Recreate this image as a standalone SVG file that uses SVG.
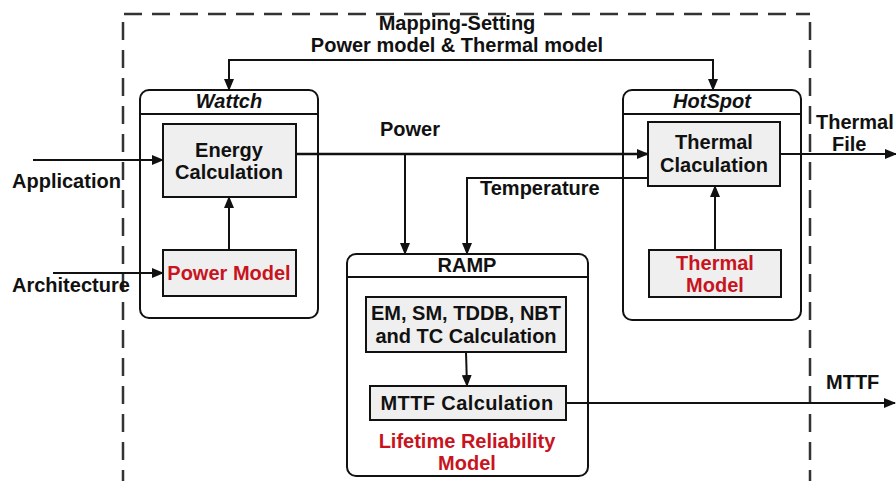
<svg xmlns="http://www.w3.org/2000/svg" width="896" height="481" viewBox="0 0 896 481">
  <style>
    text { font-family: "Liberation Sans", Arial, sans-serif; font-weight: bold; font-size: 20px; fill: #111; }
    .mid { text-anchor: middle; }
    .ital { font-style: italic; }
    .red { fill: #c8141e; }
    .frame { fill: none; stroke: #333; stroke-width: 2.5; stroke-dasharray: 18 10; }
    .tool { fill: #fff; stroke: #111; stroke-width: 2; }
    .hdr { stroke: #111; stroke-width: 2; }
    .blk { fill: #efefef; stroke: #111; stroke-width: 2; }
    .wire { fill: none; stroke: #111; stroke-width: 2; }
    .bold { stroke-width: 2.6; }
  </style>
  <defs>
    <marker id="arrow" markerUnits="userSpaceOnUse" markerWidth="12" markerHeight="10" refX="11" refY="5" orient="auto-start-reverse">
      <path d="M0,0 L12,5 L0,10 z" fill="#111"/>
    </marker>
  </defs>

  <rect width="896" height="481" fill="#fff"/>

  <!-- simulation framework boundary -->
  <path class="frame" d="M124,14 L810,14 M123,22 L123,481 M810,22 L810,481"/>
  <text class="mid" x="457" y="30">Mapping-Setting</text>
  <text class="mid" x="457" y="52">Power model &amp; Thermal model</text>

  <g id="wattch">
    <rect class="tool" x="140" y="90" width="178" height="228" rx="9"/>
    <line class="hdr" x1="140" y1="114" x2="318" y2="114"/>
    <text class="mid ital" x="229" y="108">Wattch</text>
  </g>
  <g id="energy-calc">
    <rect class="blk" x="163" y="124" width="133" height="73"/>
    <text class="mid" x="229" y="157">Energy</text>
    <text class="mid" x="229" y="179">Calculation</text>
  </g>
  <g id="power-model">
    <rect class="blk" x="163" y="250" width="133" height="46"/>
    <text class="mid red" x="229" y="280">Power Model</text>
  </g>

  <g id="hotspot">
    <rect class="tool" x="623" y="90" width="178" height="230" rx="9"/>
    <line class="hdr" x1="623" y1="114" x2="801" y2="114"/>
    <text class="mid ital" x="712" y="108">HotSpot</text>
  </g>
  <g id="thermal-calc">
    <rect class="blk" x="648" y="122" width="132" height="64"/>
    <text class="mid" x="714" y="149">Thermal</text>
    <text class="mid" x="714" y="172">Claculation</text>
  </g>
  <g id="thermal-model">
    <rect class="blk" x="649" y="250" width="132" height="47"/>
    <text class="mid red" x="715" y="270">Thermal</text>
    <text class="mid red" x="715" y="292">Model</text>
  </g>

  <g id="ramp">
    <rect class="tool" x="347" y="254" width="241" height="222" rx="9"/>
    <line class="hdr" x1="347" y1="277" x2="588" y2="277"/>
    <text class="mid" x="467" y="272">RAMP</text>
    <text class="mid red" x="467" y="448">Lifetime Reliability</text>
    <text class="mid red" x="467" y="470">Model</text>
  </g>
  <g id="failure-calc">
    <rect class="blk" x="366" y="297" width="200" height="55"/>
    <text class="mid" x="466" y="320">EM, SM, TDDB, NBT</text>
    <text class="mid" x="466" y="343">and TC Calculation</text>
  </g>
  <g id="mttf-calc">
    <rect class="blk" x="370" y="386" width="196" height="34"/>
    <text class="mid" x="467" y="410" letter-spacing="0.4">MTTF Calculation</text>
  </g>

  <g id="connectors">
    <!-- mapping settings fan out to both tools -->
    <path class="wire" d="M229,90 L229,60 L713,60 L713,90" marker-start="url(#arrow)" marker-end="url(#arrow)"/>
    <!-- inputs -->
    <line class="wire" x1="33" y1="160" x2="163" y2="160" marker-end="url(#arrow)"/>
    <line class="wire" x1="53" y1="273" x2="163" y2="273" marker-end="url(#arrow)"/>
    <line class="wire" x1="229" y1="250" x2="229" y2="197" marker-end="url(#arrow)"/>
    <!-- power trace -->
    <line class="wire bold" x1="296" y1="154" x2="648" y2="154" marker-end="url(#arrow)"/>
    <line class="wire" x1="405" y1="154" x2="405" y2="254" marker-end="url(#arrow)"/>
    <!-- temperature trace -->
    <path class="wire" d="M648,178 L467,178 L467,254" marker-end="url(#arrow)"/>
    <line class="wire" x1="715" y1="250" x2="715" y2="186" marker-end="url(#arrow)"/>
    <!-- outputs -->
    <line class="wire" x1="780" y1="154" x2="896" y2="154" marker-end="url(#arrow)"/>
    <line class="wire" x1="466" y1="352" x2="467" y2="386" marker-end="url(#arrow)"/>
    <line class="wire" x1="566" y1="403" x2="895" y2="403" marker-end="url(#arrow)"/>
  </g>

  <text x="380" y="136">Power</text>
  <text x="480" y="195">Temperature</text>
  <text x="816" y="129">Thermal</text>
  <text x="832" y="151">File</text>
  <text x="826" y="389">MTTF</text>
  <text x="12" y="188">Application</text>
  <text x="12" y="292">Architecture</text>
</svg>
